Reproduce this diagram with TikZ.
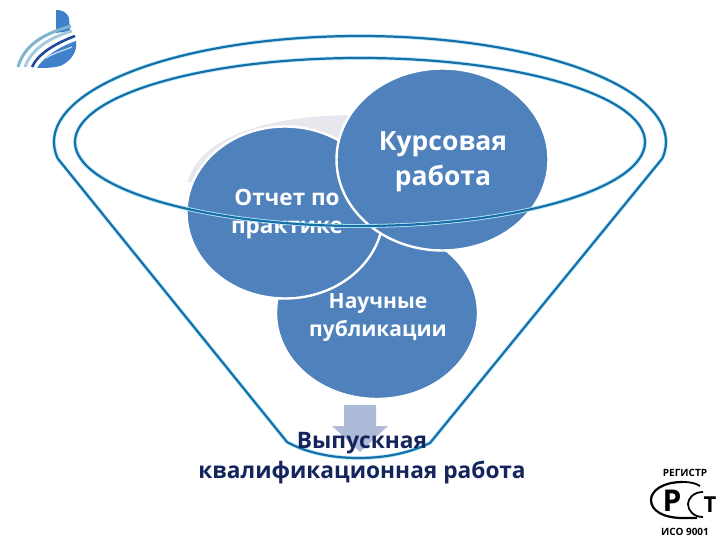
\documentclass[tikz,border=0pt]{standalone}
\usepackage{fontspec}
\setmainfont{Open Sans}
\usepackage{xcolor}
\usetikzlibrary{shapes.geometric}
\definecolor{lobeblue}{HTML}{4F81BD}
\definecolor{rimblue}{HTML}{166FA8}
\definecolor{rimglow}{HTML}{BDEBFA}
\definecolor{inkblue}{HTML}{14245C}
\definecolor{arrowblue}{HTML}{AEBBD8}
\definecolor{shadowgray}{HTML}{E6E8EE}
\definecolor{logoblue}{HTML}{3F80CC}
\definecolor{logoteal}{HTML}{7FB4CC}
\definecolor{logonavy}{HTML}{1F4A9C}
\begin{document}
\begin{tikzpicture}[
		x=1pt,y=-1pt,
		lobe/.style={ellipse, draw=white, line width=2.4pt, fill=lobeblue, inner sep=0pt},
		rimline/.style={draw=rimblue, line width=2.2pt, line join=round, preaction={draw=rimglow, line width=3.8pt}},
		rimguide/.style={ellipse, inner sep=0pt, outer sep=0pt},
		lobetext/.style 2 args={text=white, align=center, font=\fontsize{#1}{#2}\selectfont\bfseries},
		resulttext/.style={text=inkblue, align=center, font=\fontsize{22.7}{30}\selectfont\bfseries},
		markline/.style={draw=black, line width=2.2pt}
		]

		\useasboundingbox (0,0) rectangle (720,540);
		\fill[white] (0,0) rectangle (720,540);

		\node[rimguide, minimum width=570pt, minimum height=168pt] (innerrim) at (360,142) {};
		\node[rimguide, minimum width=612pt, minimum height=212pt] (outerrim) at (360,142) {};

		\fill[shadowgray] (188,182) .. controls (195,150) and (240,115) .. (360,115) -- (360,200) -- cycle;

		\draw[rimline] (outerrim.center) ++(189:306pt and 106pt) coordinate (rimleft) arc[start angle=189, end angle=-9, x radius=306pt, y radius=106pt]
			-- (430,443) .. controls (405,455) and (380,458) .. (358,458) .. controls (330,458) and (305,452) .. (287,442)
			-- cycle;
		\draw[rimline] (innerrim.center) ellipse[x radius=285pt, y radius=84pt];

		\fill[arrowblue] (344,405) -- (376,405) -- (376,426) -- (388,426) -- (360,452) -- (332,426) -- (344,426) -- cycle;

		\node[lobe, minimum width=202pt, minimum height=172pt] (papers) at (377,313) {};
		\node[lobetext={21}{28}] (paperslabel) at (378,318) {Научные\\публикации};
		\node[lobe, minimum width=197pt, minimum height=172pt] (practice) at (285,212.5) {};
		\node[lobetext={22.5}{28}] (practicelabel) at (287,214) {Отчет по\\практике};
		\node[lobe, minimum width=212pt, minimum height=182pt] (coursework) at (442.5,159.5) {};
		\node[lobetext={26.5}{35}] (courseworklabel) at (443,162) {Курсовая\\работа};

		\draw[rimline] (innerrim.west) arc[start angle=180, end angle=360, x radius=285pt, y radius=84pt];

		\node[resulttext] (result) at (362,458) {Выпускная\\квалификационная работа};

		% logo
		\fill[logoblue] (56,10) .. controls (62,10) and (67,12) .. (69,18) -- (70,31) -- (56,33) -- cycle;
		\draw[logoteal, line width=3pt] (18,67) .. controls (24,46) and (42,34) .. (71,26);
		\draw[logoteal!70!white, line width=3pt] (25,67) .. controls (31,50) and (48,38) .. (72,31);
		\draw[logonavy, line width=2.6pt] (32,67) .. controls (38,54) and (54,44) .. (75,36);
		\fill[logoblue] (37,68) .. controls (43,58) and (58,47) .. (76,41) .. controls (78,52) and (70,62) .. (60,66) .. controls (52,68) and (44,68) .. (37,68) -- cycle;
		\draw[logoteal!40!white, line width=1.2pt] (46,58) .. controls (54,53) and (62,51) .. (72,47);

		% register mark
		\draw[markline] (683,482) .. controls (662,482) and (651,491) .. (651,500) .. controls (651,510) and (662,518) .. (683,518) -- (697,518);
		\draw[markline, line width=1.8pt] (703,492) .. controls (693,492) and (688,499) .. (688,504) .. controls (688,510) and (693,517) .. (703,517);
		\draw[markline, line width=1.8pt] (683,482) .. controls (692,482) and (697,484) .. (700,486);
		\node[font=\fontsize{30}{30}\selectfont\bfseries, inner sep=0pt] (markp) at (672,501) {Р};
		\node[font=\fontsize{22}{22}\selectfont\bfseries, inner sep=0pt] (markt) at (710,505) {Т};
		\node[font=\fontsize{10}{12}\selectfont\bfseries, inner sep=0pt] (markname) at (685,473) {РЕГИСТР};
		\node[font=\fontsize{10}{12}\selectfont\bfseries, inner sep=0pt] (markiso) at (685,532) {ИСО 9001};
	\end{tikzpicture}
\end{document}
